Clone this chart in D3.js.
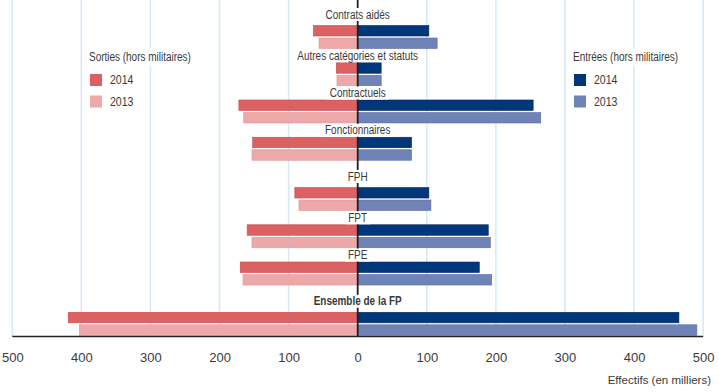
<!DOCTYPE html>
<html><head><meta charset="utf-8">
<script src="https://cdn.jsdelivr.net/npm/d3@7"></script>
<style>
body{margin:0;background:#fff;}
svg{display:block;font-family:"Liberation Sans Narrow","Arial Narrow","Liberation Sans",sans-serif;}
</style></head>
<body><svg id="c" width="719" height="392"></svg>
<script>
const categories = ["Contrats aidés","Autres catégories et statuts","Contractuels","Fonctionnaires","FPH","FPT","FPE","Ensemble de la FP"];
const groups = [0,0,0,0,1,1,1,2];
const sorties2014 = [64, 31, 172, 152, 91, 160, 170, 419];
const sorties2013 = [56, 30, 165, 153, 85, 153, 166, 403];
const entrees2014 = [103, 34, 254, 78, 103, 189, 176, 465];
const entrees2013 = [115, 34, 265, 78, 106, 192, 194, 491];
const years = ["2014","2013"];
const xTicks = [-500,-400,-300,-200,-100,0,100,200,300,400,500];

const svg = d3.select("#c");
const textCol = "#3a3a3a";
const cOut = {"2014":"#dc6163","2013":"#eda9a9"};
const cOutS = {"2014":"#c9494c","2013":"#e29494"};
const cIn = {"2014":"#00377a","2013":"#7083b6"};
const cInS = {"2014":"#002a60","2013":"#5c6ea3"};

function narrow(t, f){
  const w = t.node().getComputedTextLength();
  t.attr("textLength", w*f).attr("lengthAdjust","spacingAndGlyphs");
  return t;
}

const x = d3.scaleLinear().domain([-500,500]).range([12.3,703.1]);
const plotTop = 0, plotBottom = 336.5;
const slot = categories.map((c,i)=> i + 0.35*groups[i]);
const y = d3.scaleLinear().domain([0, d3.max(slot)]).range([25.5, 312.3]);
const yb = d3.scaleBand().domain(years).range([0,23]).paddingInner(0.16);

// gridlines
svg.append("g").selectAll("line").data(xTicks.filter(t=>t!==0)).join("line")
  .attr("x1",d=>x(d)).attr("x2",d=>x(d)).attr("y1",plotTop).attr("y2",plotBottom)
  .attr("stroke","#d5e9f7").attr("stroke-width",1.5);

// bars
const rows = categories.map((c,i)=>({c,i,out:{"2014":sorties2014[i],"2013":sorties2013[i]},inn:{"2014":entrees2014[i],"2013":entrees2013[i]}}));
const bars = svg.append("g");
rows.forEach(r=>{
  years.forEach(yr=>{
    const top = y(slot[r.i]) + yb(yr);
    bars.append("rect").attr("x",x(-r.out[yr])).attr("y",top)
      .attr("width",x(0)-x(-r.out[yr])).attr("height",yb.bandwidth())
      .attr("fill",cOut[yr]).attr("stroke",cOutS[yr]).attr("stroke-width",0.6);
    bars.append("rect").attr("x",x(0)).attr("y",top)
      .attr("width",x(r.inn[yr])-x(0)).attr("height",yb.bandwidth())
      .attr("fill",cIn[yr]).attr("stroke",cInS[yr]).attr("stroke-width",0.6);
  });
});

// center line
svg.append("line").attr("x1",x(0)).attr("x2",x(0)).attr("y1",plotTop).attr("y2",plotBottom)
  .attr("stroke","#1e1e2a").attr("stroke-width",1.8);

// baseline
svg.append("line").attr("x1",x(-500)).attr("x2",x(500)).attr("y1",plotBottom).attr("y2",plotBottom)
  .attr("stroke","#222").attr("stroke-width",1.6);

// category labels with white background
const lab = svg.append("g");
rows.forEach(r=>{
  const g = lab.append("g");
  const first = r.i===0 || groups[r.i]!==groups[r.i-1];
  const cy = y(slot[r.i]) - (first ? 11 : 7);
  const t = g.append("text").attr("x",x(0)).attr("y",cy)
    .attr("text-anchor","middle").attr("dominant-baseline","central")
    .attr("font-size",12).attr("fill",textCol)
    .attr("font-weight", r.i===categories.length-1 ? "bold" : "normal")
    .text(r.c);
  narrow(t, 0.83);
  const bb = t.node().getBBox();
  g.insert("rect","text").attr("x",bb.x-3).attr("y",cy-6.5).attr("width",bb.width+6).attr("height",13).attr("fill","#fff");
});

// axis tick labels
const axis = d3.axisBottom(x).tickValues(xTicks).tickFormat(d=>String(Math.abs(d))).tickSize(0).tickPadding(16);
const ag = svg.append("g").attr("transform",`translate(0,${plotBottom})`).call(axis);
ag.select(".domain").remove();
ag.selectAll("text").attr("font-size",13).attr("fill",textCol).attr("font-family",null);

svg.append("text").attr("x",711).attr("y",380).attr("text-anchor","end").attr("dominant-baseline","central")
  .attr("font-size",11.5).attr("fill",textCol).text("Effectifs (en milliers)");

// legends
function legend(x0, title, cols){
  const g = svg.append("g");
  const t = g.append("text").attr("x",x0).attr("y",57).attr("dominant-baseline","central")
    .attr("font-size",12).attr("fill",textCol).text(title);
  narrow(t, 0.83);
  const bb = t.node().getBBox();
  g.insert("rect","text").attr("x",bb.x-2).attr("y",bb.y-2).attr("width",bb.width+4).attr("height",bb.height+4).attr("fill","#fff");
  years.forEach((yr,k)=>{
    g.append("rect").attr("x",x0+1).attr("y",74+k*21.5).attr("width",12).attr("height",12).attr("fill",cols[yr]);
    narrow(g.append("text").attr("x",x0+21).attr("y",80+k*21.5).attr("dominant-baseline","central")
      .attr("font-size",12).attr("fill",textCol).text(yr), 0.88);
  });
}
legend(89, "Sorties (hors militaires)", cOut);
legend(573, "Entrées (hors militaires)", cIn);
</script></body></html>
